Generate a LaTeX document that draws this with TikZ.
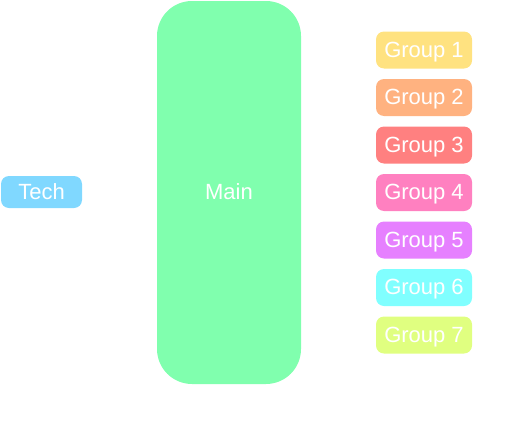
\documentclass[tikz,border=0pt]{standalone}
\usepackage{fontspec}
\setmainfont{Liberation Sans}
\usepackage{tikz}
\usetikzlibrary{positioning}

\definecolor{techblue}{RGB}{128,216,255}
\definecolor{maingreen}{RGB}{128,255,174}
\definecolor{grpA}{RGB}{255,226,128}
\definecolor{grpB}{RGB}{255,178,128}
\definecolor{grpC}{RGB}{255,128,128}
\definecolor{grpD}{RGB}{255,128,192}
\definecolor{grpE}{RGB}{230,128,255}
\definecolor{grpF}{RGB}{128,255,255}
\definecolor{grpG}{RGB}{224,255,128}

\tikzset{
  box/.style={rounded corners=8pt, text=white, inner sep=0pt, text height=14pt, text depth=0pt, font=\fontsize{22}{26}\selectfont},
  groupbox/.style={box, minimum width=96pt, minimum height=37pt}
}

\begin{document}
\begin{tikzpicture}[x=1pt,y=-1pt]
\useasboundingbox (0,0) rectangle (532,439);

% Tech on the left
\node[box, fill=techblue, minimum width=81pt, minimum height=32pt] (tech) at (41.5,192) {Tech};

% Main block
\node[box, fill=maingreen, rounded corners=35pt, minimum width=144pt, minimum height=383pt] (main) at (229,192.5) {Main};

% Groups
\foreach \i/\c in {1/grpA,2/grpB,3/grpC,4/grpD,5/grpE,6/grpF,7/grpG}
    \node[groupbox, fill=\c] (group\i) at (424,{50+47.5*(\i-1)}) {Group \i};
\end{tikzpicture}
\end{document}
